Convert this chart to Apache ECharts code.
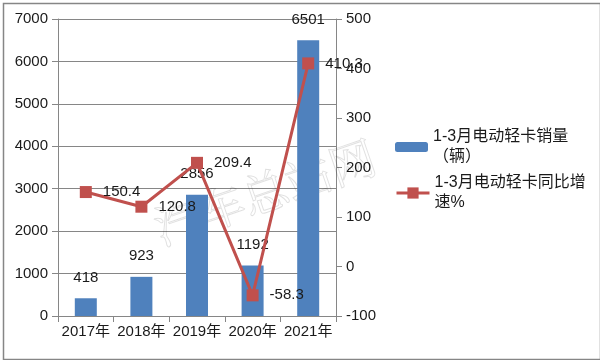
<!DOCTYPE html>
<html><head><meta charset="utf-8">
<script src="https://cdn.jsdelivr.net/npm/echarts@6/dist/echarts.min.js"></script>
<style>html,body{margin:0;padding:0;background:#fff}#c{width:600px;height:360px}</style>
</head><body><div id="c"></div>
<script>
const categories = ['2017年','2018年','2019年','2020年','2021年'];
const salesValues = [418, 923, 2856, 1192, 6501];
const growthValues = [150.4, 120.8, 209.4, -58.3, 410.3];
const salesName = '1-3月电动轻卡销量\n（辆）';
const growthName = '1-3月电动轻卡同比增\n速%';

const FONT = "'Liberation Sans','Noto Sans CJK SC',sans-serif";
const TXT = '#1a1a1a';
const GRAY = '#868686';
const chart = echarts.init(document.getElementById('c'), null, {renderer:'canvas'});
const legendText = {fontFamily: FONT, fontSize: 16, color: TXT, lineHeight: 20, padding: [20,0,0,0]};
chart.setOption({
  animation: false,
  backgroundColor: '#fff',
  textStyle: {fontFamily: FONT},
  grid: {left: 58, right: 264, top: 19, bottom: 44},
  legend: [
    {data: [salesName], left: 395, top: 117, orient: 'vertical', padding: 0,
     itemWidth: 33, itemHeight: 10, textStyle: legendText, selectedMode: false},
    {data: [growthName], left: 395, top: 163, orient: 'vertical', padding: 0,
     itemWidth: 33, itemHeight: 14, textStyle: legendText, selectedMode: false,
     lineStyle: {width: 3}}
  ],
  xAxis: {
    type: 'category', data: categories, boundaryGap: true,
    axisLine: {lineStyle: {color: GRAY, width: 1}},
    axisTick: {show: true, length: 6, lineStyle: {color: GRAY}},
    axisLabel: {color: TXT, fontSize: 15, fontFamily: FONT, margin: 8, interval: 0, hideOverlap: false}
  },
  yAxis: [
    {type: 'value', min: 0, max: 7000, interval: 1000, position: 'left',
     axisLine: {show: true, lineStyle: {color: GRAY}},
     axisTick: {show: true, length: 6, lineStyle: {color: GRAY}},
     splitLine: {show: true, lineStyle: {color: GRAY, width: 1}},
     axisLabel: {color: TXT, fontSize: 15, fontFamily: FONT, margin: 10, formatter: v => String(v)}},
    {type: 'value', min: -100, max: 500, interval: 100, position: 'right',
     axisLine: {show: true, lineStyle: {color: GRAY}},
     axisTick: {show: true, length: 6, lineStyle: {color: GRAY}},
     splitLine: {show: false},
     axisLabel: {color: TXT, fontSize: 15, fontFamily: FONT, margin: 10, formatter: v => String(v)}}
  ],
  series: [
    {name: salesName, type: 'bar', data: salesValues, barWidth: 22, yAxisIndex: 0,
     itemStyle: {color: '#4F81BD'},
     label: {show: true, position: 'top', distance: 13, color: TXT, fontSize: 15, fontFamily: FONT}},
    {name: growthName, type: 'line', data: growthValues, yAxisIndex: 1,
     symbol: 'rect', symbolSize: 12,
     lineStyle: {color: '#C0504D', width: 3},
     itemStyle: {color: '#C0504D'},
     label: {show: true, position: 'right', distance: 11, color: TXT, fontSize: 15, fontFamily: FONT}}
  ],
  graphic: [
    {type: 'rect', left: 1, top: 1, shape: {width: 597, height: 356},
     style: {fill: 'none', stroke: GRAY, lineWidth: 1.5}, z: 100},
    {type: 'text', x: 265, y: 192, rotation: 0.33, z: 1,
     style: {text: '汽车总站网', font: "46px 'Noto Serif CJK SC','Noto Sans CJK SC'", fill: 'none', stroke: 'rgba(0,0,0,0.12)', lineWidth: 1, align: 'center', verticalAlign: 'middle'}}
  ]
});
</script></body></html>
